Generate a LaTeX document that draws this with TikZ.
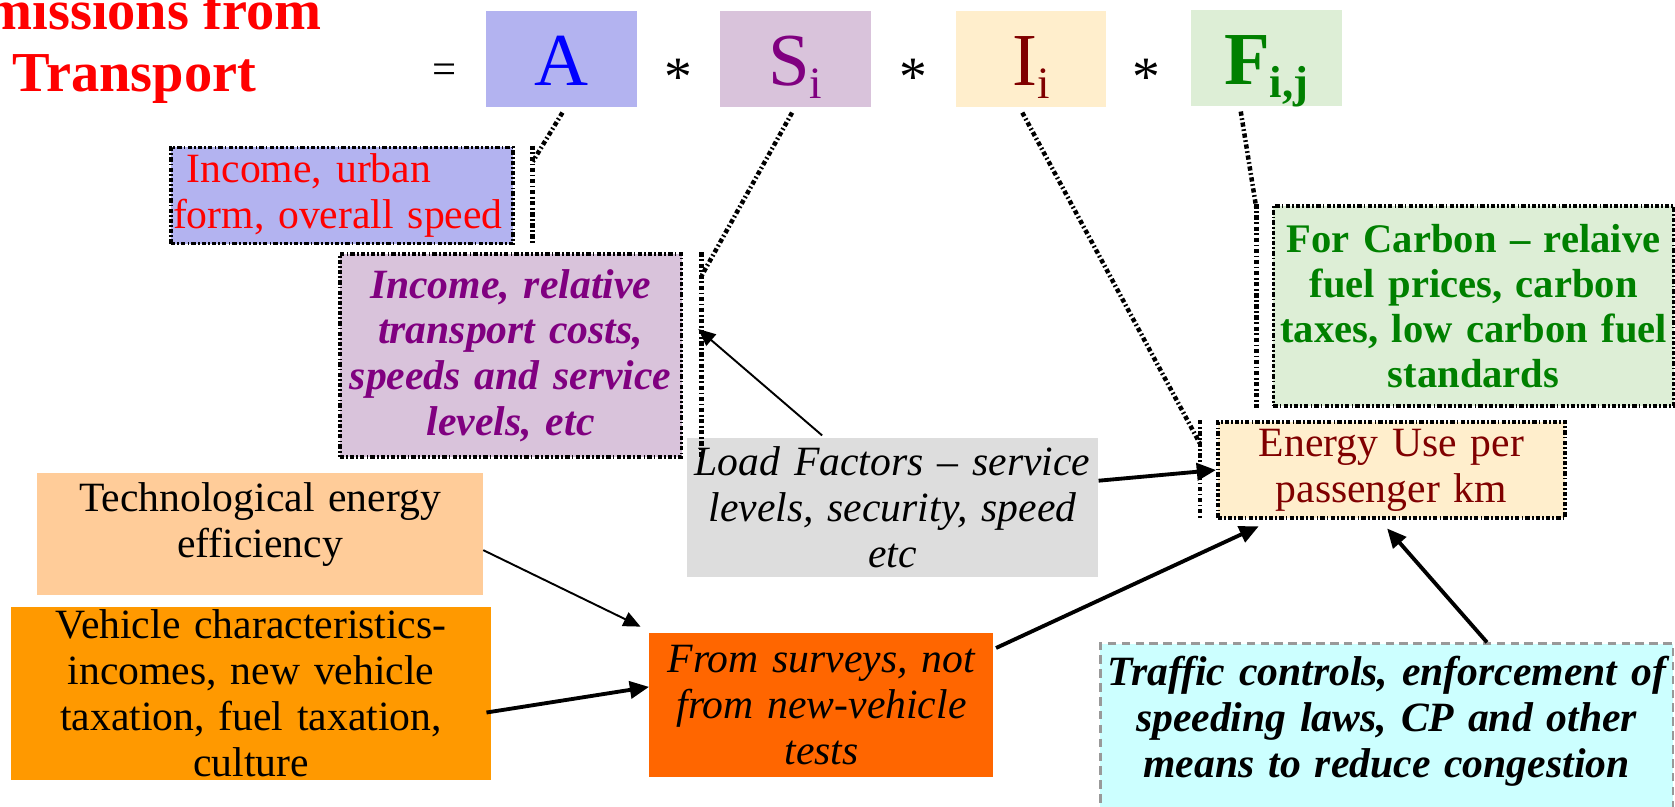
\documentclass[tikz,border=0pt]{standalone}
\usepackage{fontspec}
\setmainfont{Liberation Serif}
\usetikzlibrary{arrows.meta,calc}

\definecolor{boxblue}{RGB}{179,179,240}
\definecolor{boxpurple}{RGB}{217,195,219}
\definecolor{boxcream}{RGB}{255,238,204}
\definecolor{boxgreen}{RGB}{221,238,214}
\definecolor{boxgray}{RGB}{221,221,221}
\definecolor{boxpeach}{RGB}{255,204,153}
\definecolor{boxorange}{RGB}{255,153,0}
\definecolor{boxred}{RGB}{255,102,0}
\definecolor{boxcyan}{RGB}{204,255,255}
\definecolor{darkred}{RGB}{128,0,0}
\definecolor{darkgreen}{RGB}{0,128,0}
\definecolor{purpletext}{RGB}{128,0,128}

\newcommand{\boxfont}{\fontsize{19.5}{21.5}\selectfont}
\newcommand{\lowsub}[1]{\raisebox{-6pt}{\fontsize{21}{21}\selectfont #1}}

\tikzset{textbox/.style={inner sep=0pt,align=center,font=\boxfont}}
\tikzset{dotframe/.style={draw=black,line width=1.7pt,dash pattern=on 2pt off 1pt on 0.8pt off 1pt}}
\tikzset{callout/.style={line width=2.1pt,dash pattern=on 2pt off 1.2pt on 0.8pt off 1.2pt}}
\tikzset{letterbox/.style={inner sep=0pt,minimum width=70.5pt,minimum height=45pt,text height=27pt,text depth=2pt,font=\fontsize{35}{35}\selectfont}}
\tikzset{opsign/.style={anchor=base,font=\fontsize{20}{20}\selectfont}}
\tikzset{thinarrow/.style={-{Triangle[length=8pt,width=7pt]},line width=0.9pt}}
\tikzset{thickarrow/.style={-{Triangle[length=9pt,width=8pt]},line width=1.8pt}}

\begin{document}
\begin{tikzpicture}[x=0.5pt,y=-0.5pt]
\useasboundingbox (0,0) rectangle (1568,755);
\clip (0,0) rectangle (1568,755);

% title and the formula
\node[text=red,align=center,font=\fontsize{26.4}{29}\selectfont\bfseries] (title) at (126,44) {Emissions from\\Transport};
\node[opsign] (equals) at (416,78) {=};
\node[letterbox,fill=boxblue,text=blue] (abox) at (525.5,55) {A};
\node[letterbox,fill=boxpurple,text=purpletext] (sbox) at (744.5,55) {S\lowsub{i}};
\node[letterbox,fill=boxcream,text=darkred] (ibox) at (965,55) {I\lowsub{i}};
\node[letterbox,fill=boxgreen,text=darkgreen,font=\fontsize{35}{35}\selectfont\bfseries] (fbox) at (1185.5,54) {F\lowsub{i,j}};
\foreach \mynode/\myx in {times1/635,times2/855,times3/1073}
{
    \node[opsign,font=\fontsize{26}{26}\selectfont] (\mynode) at (\myx,89) {*};
}

% the boxes that explain each factor
\node[textbox,dotframe,fill=boxblue,text=red,align=left,minimum width=160pt,minimum height=45pt,text width=158pt] (income) at (320,183) {~Income, urban\\form, overall speed};
\node[textbox,dotframe,fill=boxpurple,text=purpletext,font=\boxfont\bfseries\itshape,minimum width=160pt,minimum height=95pt,text width=156pt] (increl) at (478,333) {Income, relative\\transport costs,\\speeds and service\\levels, etc};
\node[textbox,fill=boxgray,font=\boxfont\itshape,minimum width=192.5pt,minimum height=65pt,text width=190pt] (load) at (835.5,475) {Load Factors – service\\levels, security, speed\\etc};
\node[textbox,dotframe,fill=boxcream,text=darkred,minimum width=162.5pt,minimum height=45pt,text width=160pt] (energy) at (1302.5,440) {Energy Use per\\passenger km};
\node[textbox,dotframe,fill=boxgreen,text=darkgreen,font=\fontsize{19}{21}\selectfont\bfseries,minimum width=187.5pt,minimum height=93.5pt,text width=185pt] (carbon) at (1379.5,286.5) {For Carbon – relaive\\fuel prices, carbon\\taxes, low carbon fuel\\standards};
\node[textbox,fill=boxpeach,minimum width=208.5pt,minimum height=57pt,text width=205pt] (tech) at (243.5,500) {Technological energy\\efficiency\\[-8pt]\mbox{}};
\node[textbox,fill=boxorange,minimum width=225pt,minimum height=81pt,text width=222pt] (vehicle) at (235,649) {Vehicle characteristics-\\incomes, new vehicle\\taxation, fuel taxation,\\culture};
\node[textbox,fill=boxred,font=\boxfont\itshape,minimum width=161pt,minimum height=67pt,text width=158pt] (survey) at (769,660) {From surveys, not\\from new-vehicle\\tests};
\node[textbox,fill=boxcyan,draw=gray!80,line width=1.2pt,dash pattern=on 4pt off 2.5pt,font=\boxfont\bfseries\itshape,minimum width=268pt,minimum height=82.5pt,text width=265pt] (traffic) at (1298,685) {Traffic controls, enforcement of\\speeding laws, CP and other\\means to reduce congestion\\[-7.5pt]\mbox{}};

% callout lines from the formula
\foreach \mynode/\myside/\mydx in {income/east/17,increl/east/17,energy/west/-15,carbon/west/-14}
{
    \draw[callout] ($(\mynode.north \myside)+(\mydx,0)$) -- ($(\mynode.south \myside)+(\mydx,0)$);
}
\draw[callout] ($(abox.south)+(1,5)$) -- ($(income.north east)+(17,15)$);
\draw[callout] ($(sbox.south)+(-3,5)$) -- ($(increl.north east)+(17,22)$);
\draw[callout] ($(ibox.south)+(-8,5)$) -- ($(energy.north west)+(-15,22)$);
\draw[callout] ($(fbox.south)+(-24,5)$) -- ($(carbon.north west)+(-14,5)$);

% arrows
\draw[thinarrow] ($(load.north west)+(127,-2)$) -- ($(increl.east)+(14,-25)$);
\draw[thickarrow] ($(load.east)+(0,-25)$) -- (energy.west);
\draw[thinarrow] ($(tech.east)+(0,15)$) -- ($(survey.north west)+(-8,-6)$);
\draw[thickarrow] ($(vehicle.east)+(-5,18)$) -- ($(survey.west)+(0,-17)$);
\draw[thickarrow] ($(survey.north east)+(2,14)$) -- ($(energy.south west)+(40,6)$);
\draw[thickarrow] ($(traffic.north)+(94,0)$) -- ($(energy.south)+(-4,8)$);
\end{tikzpicture}
\end{document}
